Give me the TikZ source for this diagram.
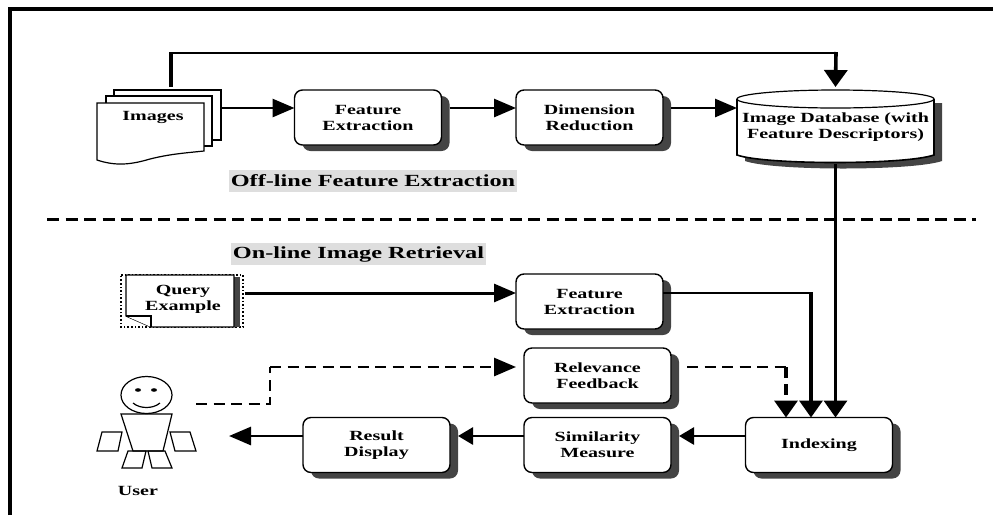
\documentclass[tikz,border=0pt]{standalone}
\usepackage{fontspec}
\setmainfont{Liberation Serif}[FakeStretch=1.43]
\usepackage{tikz}
\usetikzlibrary{arrows.meta,shadows}
\definecolor{shadowgray}{HTML}{444444}
\tikzset{
  txt/.style={font=\fontsize{14}{16}\selectfont\bfseries,align=center,inner sep=0pt,outer sep=0pt},
  procbox/.style={txt,draw,line width=1.4pt,fill=white,rounded corners=8pt,minimum width=147pt,minimum height=55pt,
    drop shadow={shadow xshift=8pt,shadow yshift=-6pt,fill=shadowgray,opacity=1}},
  head/.style={txt,font=\fontsize{17}{20}\selectfont\bfseries,fill=black!13,minimum height=22pt,inner xsep=2pt},
  page/.style={line width=1.2pt,fill=white},
  wire/.style={line width=2.8pt},
  post/.style={line width=3.6pt},
  hwire/.style={wire,-{Triangle[length=22pt,width=18pt]}},
  vwire/.style={post,-{Triangle[length=17pt,width=23pt]}},
  back/.style={wire,-{Triangle[length=15pt,width=17pt]}},
  fdash/.style={wire,dash pattern=on 11pt off 6.5pt}
}
\begin{document}
\begin{tikzpicture}[x=1pt,y=-1pt]
\useasboundingbox (0,0) rectangle (993,515);
\draw [line width=3.6pt] (10,515) -- (10,9) -- (993,9);

% images stack
\draw [page] (114,90) rectangle (221,140);
\draw [page] (106,96) rectangle (212,146);
\draw [page] (97,103) -- (204,103) -- (204,151) .. controls (185,153) and (170,154) .. (150,159) .. controls (130,165) and (115,166) .. (97,160) -- cycle;
\node [txt] (images) at (153,117) {Images};
\coordinate (imgout) at (221,108);
\coordinate (imgtop) at (171,87);

% off-line row
\node [procbox] (feat1) at (368,117.5) {Feature\\Extraction};
\node [procbox] (dimred) at (589.5,117.5) {Dimension\\Reduction};

% database
\fill [shadowgray] (745,103) -- (942,103) -- (942,161) .. controls (913,171) and (773,171) .. (745,161) -- cycle;
\draw [page,line width=1.6pt] (737,99) -- (737,155) .. controls (765,165) and (905,165) .. (934,155) -- (934,99);
\draw [page] (835.5,99) ellipse [x radius=98.5,y radius=9];
\node [txt,minimum width=197pt,minimum height=74pt] (db) at (835.5,127) {Image Database (with\\Feature Descriptors)};

\node [head] (offline) at (373,181) {Off-line Feature Extraction};
\draw [line width=3pt,dash pattern=on 12pt off 6.5pt] (47,219) -- (976,219);
\node [head] (online) at (358.5,254) {On-line Image Retrieval};

% query page
\draw [line width=1.6pt,dotted] (121,275) -- (243,275) -- (243,327) -- (121,327) -- cycle;
\fill [shadowgray] (234,277) rectangle (240,327);
\draw [page] (126,275) -- (234,275) -- (234,327) -- (151,327) -- (126,316) -- cycle;
\draw [page] (126,316) -- (151,316) -- (151,327);
\node [txt] (query) at (183,299) {Query\\Example};
\coordinate (qryout) at (245,293);

% lower boxes
\node [procbox] (feat2) at (589.5,301.5) {Feature\\Extraction};
\node [procbox] (relev) at (597.5,375.5) {Relevance\\Feedback};
\node [procbox] (simil) at (597.5,445) {Similarity\\Measure};
\node [procbox] (index) at (819,445) {Indexing};
\node [procbox] (result) at (376.5,445) {Result\\Display};

% user
\draw [line width=1.2pt] (146.5,395) ellipse [x radius=25.5,y radius=18.5];
\fill (138,390) ellipse [x radius=3,y radius=1.8] (154,390) ellipse [x radius=3,y radius=1.8];
\draw [line width=1.2pt] (133,403) .. controls (140,409) and (153,409) .. (160,403);
\draw [line width=1.2pt] (121,414) -- (172,414) -- (163,451) -- (133,451) -- cycle;
\draw [line width=1.2pt] (102,432) -- (122,432) -- (118,451) -- (97,451) -- cycle;
\draw [line width=1.2pt] (170,432) -- (190,432) -- (196,451) -- (175,451) -- cycle;
\draw [line width=1.2pt] (128,451) -- (146,451) -- (142,468) -- (122,468) -- cycle;
\draw [line width=1.2pt] (148,451) -- (165,451) -- (172,468) -- (152,468) -- cycle;
\node [txt] (user) at (138,491) {User};
\coordinate (usrout) at (196,404);
\coordinate (usrin) at (229,436);

% connectors
\draw [post] (imgtop) -- (171,52);
\draw [wire] (169.5,53) -- (837,53);
\draw [vwire] (836,52) -- ([yshift=3pt]db.north);
\draw [hwire] (imgout) -- ([yshift=9.5pt]feat1.west);
\draw [hwire] ([shift={(8pt,9.5pt)}]feat1.east) -- ([yshift=9.5pt]dimred.west);
\draw [hwire] ([shift={(8pt,9.5pt)}]dimred.east) -- ([yshift=19pt]db.west);
\draw [vwire] (db.south) -- ([xshift=16.5pt]index.north);
\draw [wire,line width=3pt,-{Triangle[length=22pt,width=18pt]}] (qryout) -- ([yshift=8.5pt]feat2.west);
\draw [wire] ([yshift=8.5pt]feat2.east) -- (812,293);
\draw [vwire] (811,292) -- ([xshift=-8pt]index.north);
\draw [fdash] (usrout) -- (270,404) -- (270,367);
\draw [fdash,-{Triangle[length=22pt,width=18pt]}] (270,367) -- ([yshift=8.5pt]feat2.west |- relev.west);
\draw [fdash] (687,367) -- (786,367);
\draw [post,dash pattern=on 11pt off 6pt,-{Triangle[length=17pt,width=23pt]}] (786,367) -- ([xshift=-33pt]index.north);
\draw [back] ([yshift=9pt]index.west) -- ([shift={(8pt,9pt)}]simil.east);
\draw [back] ([yshift=9pt]simil.west) -- ([shift={(8pt,9pt)}]result.east);
\draw [back,-{Triangle[length=22pt,width=18pt]}] ([yshift=9pt]result.west) -- (usrin);
\end{tikzpicture}
\end{document}
